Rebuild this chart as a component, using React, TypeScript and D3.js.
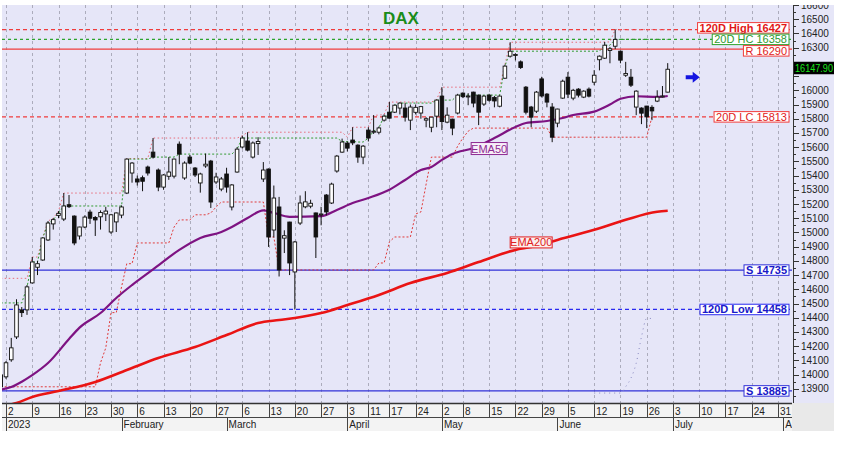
import * as d3 from 'd3';
import React from 'react';

// daily candles: date, open, high, low, close
const candles: [string, number, number, number, number][] = [
    ["2022-12-30", 13998, 14010, 13900, 13914],
    ["2023-01-02", 13984, 14095, 13970, 14083],
    ["2023-01-03", 14104, 14258, 14090, 14188],
    ["2023-01-04", 14265, 14530, 14250, 14490],
    ["2023-01-05", 14455, 14475, 14405, 14436],
    ["2023-01-06", 14455, 14630, 14420, 14617],
    ["2023-01-09", 14645, 14827, 14640, 14792],
    ["2023-01-10", 14755, 14800, 14700, 14780],
    ["2023-01-11", 14806, 14965, 14800, 14961],
    ["2023-01-12", 14947, 15080, 14940, 15066],
    ["2023-01-13", 15060, 15100, 15020, 15090],
    ["2023-01-16", 15120, 15150, 15100, 15134],
    ["2023-01-17", 15094, 15277, 15080, 15186],
    ["2023-01-18", 15195, 15263, 15172, 15181],
    ["2023-01-19", 15115, 15120, 14910, 14926],
    ["2023-01-20", 14975, 15040, 14950, 15038],
    ["2023-01-23", 15038, 15120, 15030, 15108],
    ["2023-01-24", 15143, 15160, 15060, 15100],
    ["2023-01-25", 15105, 15115, 14975, 15088],
    ["2023-01-26", 15110, 15155, 15020, 15140],
    ["2023-01-27", 15130, 15180, 15080, 15150],
    ["2023-01-30", 15003, 15130, 14990, 15124],
    ["2023-01-31", 15074, 15140, 15003, 15137],
    ["2023-02-01", 15122, 15190, 15100, 15179],
    ["2023-02-02", 15277, 15520, 15270, 15516],
    ["2023-02-03", 15418, 15495, 15350, 15488],
    ["2023-02-06", 15376, 15400, 15330, 15355],
    ["2023-02-07", 15385, 15400, 15290, 15360],
    ["2023-02-08", 15460, 15470, 15400, 15418],
    ["2023-02-09", 15565, 15664, 15520, 15530],
    ["2023-02-10", 15439, 15450, 15290, 15319],
    ["2023-02-13", 15319, 15410, 15300, 15404],
    ["2023-02-14", 15395, 15530, 15370, 15425],
    ["2023-02-15", 15396, 15520, 15380, 15516],
    ["2023-02-16", 15621, 15640, 15480, 15551],
    ["2023-02-17", 15383, 15500, 15370, 15488],
    ["2023-02-20", 15530, 15545, 15480, 15488],
    ["2023-02-21", 15453, 15460, 15390, 15404],
    ["2023-02-22", 15348, 15420, 15280, 15411],
    ["2023-02-23", 15468, 15555, 15455, 15480],
    ["2023-02-24", 15502, 15510, 15172, 15214],
    ["2023-02-27", 15355, 15420, 15340, 15390],
    ["2023-02-28", 15305, 15390, 15290, 15376],
    ["2023-03-01", 15411, 15455, 15280, 15319],
    ["2023-03-02", 15179, 15340, 15155, 15334],
    ["2023-03-03", 15425, 15600, 15420, 15586],
    ["2023-03-06", 15601, 15680, 15590, 15664],
    ["2023-03-07", 15643, 15705, 15570, 15579],
    ["2023-03-08", 15530, 15640, 15520, 15629],
    ["2023-03-09", 15625, 15670, 15545, 15640],
    ["2023-03-10", 15376, 15495, 15355, 15439],
    ["2023-03-13", 15446, 15450, 14898, 14968],
    ["2023-03-14", 15017, 15330, 14965, 15242],
    ["2023-03-15", 15179, 15250, 14690, 14736],
    ["2023-03-16", 14960, 15015, 14855, 14977],
    ["2023-03-17", 15073, 15075, 14700, 14785],
    ["2023-03-20", 14722, 14940, 14458, 14933],
    ["2023-03-21", 15066, 15260, 15052, 15207],
    ["2023-03-22", 15180, 15290, 15170, 15215],
    ["2023-03-23", 15185, 15230, 15170, 15205],
    ["2023-03-24", 15137, 15140, 14820, 14968],
    ["2023-03-27", 15125, 15180, 15050, 15130],
    ["2023-03-28", 15263, 15270, 15120, 15144],
    ["2023-03-29", 15207, 15350, 15200, 15340],
    ["2023-03-30", 15432, 15545, 15420, 15537],
    ["2023-03-31", 15565, 15660, 15560, 15636],
    ["2023-04-03", 15629, 15640, 15570, 15593],
    ["2023-04-04", 15650, 15740, 15614, 15630],
    ["2023-04-05", 15614, 15620, 15490, 15530],
    ["2023-04-06", 15530, 15615, 15480, 15607],
    ["2023-04-11", 15720, 15740, 15640, 15664],
    ["2023-04-12", 15705, 15825, 15693, 15712],
    ["2023-04-13", 15705, 15745, 15690, 15735],
    ["2023-04-14", 15790, 15830, 15780, 15818],
    ["2023-04-17", 15846, 15917, 15800, 15804],
    ["2023-04-18", 15846, 15900, 15840, 15895],
    ["2023-04-19", 15875, 15915, 15830, 15910],
    ["2023-04-20", 15875, 15910, 15780, 15811],
    ["2023-04-21", 15790, 15900, 15720, 15882],
    ["2023-04-24", 15845, 15900, 15830, 15880],
    ["2023-04-25", 15840, 15890, 15800, 15885],
    ["2023-04-26", 15790, 15810, 15740, 15800],
    ["2023-04-27", 15740, 15811, 15705, 15811],
    ["2023-04-28", 15818, 15935, 15740, 15931],
    ["2023-05-02", 15959, 16022, 15720, 15780],
    ["2023-05-03", 15776, 15880, 15768, 15825],
    ["2023-05-04", 15797, 15800, 15684, 15734],
    ["2023-05-05", 15840, 15975, 15830, 15966],
    ["2023-05-08", 15980, 15985, 15945, 15955],
    ["2023-05-09", 15955, 15980, 15895, 15960],
    ["2023-05-10", 15987, 15990, 15880, 15910],
    ["2023-05-11", 15966, 15970, 15755, 15846],
    ["2023-05-12", 15903, 15965, 15890, 15959],
    ["2023-05-15", 15966, 15975, 15920, 15930],
    ["2023-05-16", 15950, 15960, 15880, 15925],
    ["2023-05-17", 15888, 15965, 15880, 15959],
    ["2023-05-18", 16085, 16180, 16080, 16170],
    ["2023-05-19", 16240, 16338, 16230, 16275],
    ["2023-05-22", 16245, 16260, 16210, 16252],
    ["2023-05-23", 16200, 16210, 16150, 16160],
    ["2023-05-24", 16022, 16030, 15830, 15846],
    ["2023-05-25", 15882, 15890, 15740, 15811],
    ["2023-05-26", 15853, 15995, 15840, 15987],
    ["2023-05-29", 16080, 16095, 15950, 15960],
    ["2023-05-30", 15973, 15980, 15880, 15917],
    ["2023-05-31", 15882, 15910, 15635, 15670],
    ["2023-06-01", 15769, 15870, 15740, 15868],
    ["2023-06-02", 15945, 16075, 15940, 16064],
    ["2023-06-05", 16092, 16128, 15945, 15973],
    ["2023-06-06", 15945, 16010, 15930, 16000],
    ["2023-06-07", 16008, 16015, 15950, 15966],
    ["2023-06-08", 15952, 16000, 15945, 15994],
    ["2023-06-09", 16008, 16020, 15950, 15959],
    ["2023-06-12", 16057, 16142, 16036, 16106],
    ["2023-06-13", 16215, 16245, 16140, 16240],
    ["2023-06-14", 16226, 16340, 16220, 16317],
    ["2023-06-15", 16280, 16305, 16190, 16292],
    ["2023-06-16", 16310, 16427, 16290, 16358],
    ["2023-06-19", 16275, 16280, 16190, 16212],
    ["2023-06-20", 16106, 16200, 16094, 16118],
    ["2023-06-21", 16092, 16150, 16023, 16036],
    ["2023-06-22", 15882, 16000, 15825, 15994],
    ["2023-06-23", 15875, 15880, 15762, 15839],
    ["2023-06-26", 15889, 15890, 15734, 15813],
    ["2023-06-27", 15880, 15895, 15790, 15855],
    ["2023-06-28", 15924, 16000, 15917, 15952],
    ["2023-06-29", 15955, 16030, 15950, 15960],
    ["2023-06-30", 15987, 16191, 15985, 16148],
];

// moving averages
const ema50: [string, number][] = [
    ["2022-12-30", 13895], ["2023-01-03", 13912], ["2023-01-05", 13950], ["2023-01-09", 13996],
    ["2023-01-12", 14081], ["2023-01-18", 14250], ["2023-01-20", 14330], ["2023-01-26", 14433],
    ["2023-01-31", 14539], ["2023-02-03", 14630], ["2023-02-09", 14740], ["2023-02-16", 14877],
    ["2023-02-22", 14961], ["2023-02-28", 15003], ["2023-03-02", 15038], ["2023-03-07", 15101],
    ["2023-03-10", 15155], ["2023-03-14", 15137], ["2023-03-17", 15110], ["2023-03-27", 15115],
    ["2023-03-30", 15158], ["2023-04-04", 15207], ["2023-04-11", 15242], ["2023-04-17", 15300],
    ["2023-04-20", 15369], ["2023-04-25", 15439], ["2023-04-27", 15460], ["2023-05-02", 15510],
    ["2023-05-04", 15552], ["2023-05-10", 15594], ["2023-05-16", 15664], ["2023-05-22", 15742],
    ["2023-05-24", 15770], ["2023-05-30", 15784], ["2023-06-02", 15805], ["2023-06-06", 15826],
    ["2023-06-12", 15850], ["2023-06-15", 15900], ["2023-06-19", 15940], ["2023-06-22", 15958],
    ["2023-06-28", 15953], ["2023-06-30", 15960],
];
const ema200: [string, number][] = [
    ["2022-12-30", 13775], ["2023-01-04", 13800], ["2023-01-09", 13842], ["2023-01-16", 13884],
    ["2023-01-25", 13948], ["2023-02-02", 14032], ["2023-02-10", 14117], ["2023-02-21", 14194],
    ["2023-03-01", 14278], ["2023-03-09", 14363], ["2023-03-15", 14384], ["2023-03-20", 14398],
    ["2023-03-27", 14433], ["2023-04-03", 14489], ["2023-04-13", 14560], ["2023-04-21", 14644],
    ["2023-05-03", 14715], ["2023-05-11", 14792], ["2023-05-22", 14877], ["2023-05-25", 14898],
    ["2023-06-01", 14947], ["2023-06-12", 15018], ["2023-06-20", 15089], ["2023-06-28", 15145],
    ["2023-06-30", 15152],
];
// faint 120-day low close trace, only visible at the end
const low120: [string, number][] = [
    ["2023-06-12", 13870], ["2023-06-19", 13870], ["2023-06-20", 13915], ["2023-06-21", 13975],
    ["2023-06-22", 14080], ["2023-06-23", 14265], ["2023-06-26", 14395], ["2023-06-27", 14395],
];

// 20 day channel, values before the first visible day
const priorHighClose = 14504;
const priorHigh = 14677;
const channelDays = 19;

const levelNames = ["120D High", "20D HC", "R", "20D LC", "S", "120D Low", "S"];
const levelValues = [16427, 16358, 16290, 15813, 14735, 14458, 13885];
const levelColors = ["#e01818", "#2f9a2f", "#e02020", "#e02020", "#1818c8", "#1818c8", "#1818c8"];
const levelLine = ["#f03c3c", "#2ea42e", "#f03c3c", "#f03c3c", "#3030d8", "#2a2af0", "#3030d8"];
const levelDash = ["4,3", "3,3", "", "4,3", "", "4,3", ""];
const levelBold = [true, false, false, false, true, true, true];

const holidays = ["2023-04-07", "2023-04-10", "2023-05-01"];
const monthLabels = ["2023", "February", "March", "April", "May", "June", "July", "August"];
const lastPrice = "16147.90";

const FONT = "'Liberation Sans', Arial, sans-serif";
const L = 2, R = 792, T = 5, B = 403;

let ctx: CanvasRenderingContext2D | null = null;
const measure = (s: string, bold: boolean) => {
    if (!ctx) ctx = document.createElement('canvas').getContext('2d');
    if (!ctx) return s.length * 6;
    ctx.font = `${bold ? 'bold ' : ''}11px ${FONT}`;
    return ctx.measureText(s).width;
};

const fmt = d3.timeFormat('%Y-%m-%d');
const days = d3.timeDay.range(new Date(2022, 11, 30), new Date(2023, 7, 5))
    .filter(d => d.getDay() !== 0 && d.getDay() !== 6 && !holidays.includes(fmt(d)));
const dayIndex = new Map(days.map((d, i) => [fmt(d), i]));

const x = d3.scaleLinear().domain([1, 148]).range([6, 778]);
const y = d3.scaleLinear().domain([13800, 16600]).range([B, T]);
const xd = (s: string) => x(dayIndex.get(s) as number);
const crisp = (v: number) => Math.round(v) + 0.5;

const App = () => {
    const bars = candles.map(c => ({ i: dayIndex.get(c[0]) as number, o: c[1], h: c[2], l: c[3], c: c[4] }));

    // 20 day highest high, highest close, lowest close
    const channel = bars.map((b, k) => {
        const win = bars.slice(Math.max(0, k - channelDays + 1), k + 1);
        let hh = d3.max(win, w => w.h) as number;
        let hc = d3.max(win, w => w.c) as number;
        const lc = d3.min(win, w => w.c) as number;
        if (k < 6) { hh = Math.max(hh, priorHigh); hc = Math.max(hc, priorHighClose); }
        return { i: b.i, hh, hc, lc };
    });

    const chLine = (f: (d: typeof channel[0]) => number) =>
        d3.line<typeof channel[0]>().x(d => x(d.i)).y(d => y(f(d)))(channel) || '';
    const emaLine = d3.line<[string, number]>().x(d => xd(d[0])).y(d => y(d[1])).curve(d3.curveMonotoneX);

    const weekTicks = days.map((d, i) => ({ d, i }))
        .filter(({ d, i }) => i > 0 && (i === 1 || +d3.timeMonday.floor(d) !== +d3.timeMonday.floor(days[i - 1])))
        .filter(t => x(t.i) < R);
    const monthTicks = days.map((d, i) => ({ d, i }))
        .filter(({ d, i }) => i > 0 && (i === 1 || d.getMonth() !== days[i - 1].getMonth()))
        .filter(t => x(t.i) < R);

    const last = bars[bars.length - 1];
    const tagTop = y(last.c) - 7.5, tagBot = y(last.c) + 5;
    const yTicks = d3.range(13850, 16651, 50);

    // level label boxes, pushed apart where they collide
    const bh = 10.5;
    const boxes = levelValues.map((v, k) => {
        const text = `${levelNames[k]} ${v}`;
        const w = measure(text, levelBold[k]) + 4;
        return { k, v, text, w, top: y(v) - bh / 2 };
    });
    for (let it = 0; it < 12; it++) {
        for (let k = 0; k < boxes.length - 1; k++) {
            const ov = boxes[k].top + bh + 1 - boxes[k + 1].top;
            if (ov > 0) { boxes[k].top -= ov / 2; boxes[k + 1].top += ov / 2; }
        }
    }

    const emaAt = (arr: [string, number][], s: string) => {
        const xi = xd(s);
        const xs = arr.map(a => xd(a[0]));
        const j = d3.bisectLeft(xs, xi);
        if (j <= 0) return arr[0][1];
        if (j >= arr.length) return arr[arr.length - 1][1];
        const t = (xi - xs[j - 1]) / (xs[j] - xs[j - 1]);
        return arr[j - 1][1] + t * (arr[j][1] - arr[j - 1][1]);
    };
    const e50x = xd("2023-05-15"), e50y = y(emaAt(ema50, "2023-05-15")) + 8;
    const e200x = xd("2023-05-25"), e200y = y(emaAt(ema200, "2023-05-25")) - 4.5;

    const cw = 3.6;

    return (
        <svg width={842} height={450} style={{ position: 'absolute', left: 0, top: 0, background: '#fff' }}
            fontFamily={FONT}>
            <defs>
                <clipPath id="plot"><rect x={L} y={T} width={R - L} height={B - T} /></clipPath>
                <clipPath id="xax"><rect x={L} y={B} width={R - L} height={30} /></clipPath>
                <clipPath id="yax"><rect x={R} y={T} width={50} height={B - T - 2} /></clipPath>
            </defs>
            <rect x={L} y={T} width={834 - L} height={B - T} fill="#e6e6f8" />
            <rect x={L} y={B} width={R - L} height={28} fill="#f3f3f3" />
            <rect x={R} y={B} width={834 - R} height={28} fill="#e9e9e9" />

            <g clipPath="url(#plot)">
                {weekTicks.map(t => (
                    <line key={t.i} x1={crisp(x(t.i))} x2={crisp(x(t.i))} y1={T} y2={B} stroke="#acacbc" strokeDasharray="3,3" />
                ))}
                {levelValues.map((v, k) => (
                    <line key={k} x1={L} x2={R} y1={y(v)} y2={y(v)} stroke={levelLine[k]}
                        strokeWidth={1.3} strokeDasharray={levelDash[k] || undefined} />
                ))}
                <path d={emaLine(low120) || ''} fill="none" stroke="#8888c0" strokeWidth={1} strokeDasharray="1,4" />
                <path d={chLine(d => d.hh)} fill="none" stroke="#e86a78" strokeWidth={1} strokeDasharray="1.5,2.5" />
                <path d={chLine(d => d.hc)} fill="none" stroke="#2f9a2f" strokeWidth={1} strokeDasharray="2,2" />
                <path d={chLine(d => d.lc)} fill="none" stroke="#e03a3a" strokeWidth={1} strokeDasharray="2,2" />
                <path d={emaLine(ema200) || ''} fill="none" stroke="#ea1414" strokeWidth={2.6} />
                <path d={emaLine(ema50) || ''} fill="none" stroke="#7e1382" strokeWidth={2.2} />
                {bars.map(b => {
                    const up = b.c >= b.o;
                    const top = y(Math.max(b.o, b.c)), bot = y(Math.min(b.o, b.c));
                    return (
                        <g key={b.i}>
                            <line x1={x(b.i)} x2={x(b.i)} y1={y(b.h)} y2={y(b.l)} stroke="#111" strokeWidth={1} />
                            <rect x={x(b.i) - cw / 2} y={top} width={cw} height={Math.max(1, bot - top)}
                                fill={up ? '#fff' : '#111'} stroke="#111" strokeWidth={0.9} />
                        </g>
                    );
                })}
            </g>

            {/* indicator tags */}
            <g fontSize={11}>
                <rect x={e50x - 18} y={e50y - 6} width={36} height={12} fill="#f6eef8" stroke="#8e2a92" />
                <text x={e50x} y={e50y + 4} textAnchor="middle" fill="#8e2a92">EMA50</text>
                <rect x={e200x - 21} y={e200y - 5.5} width={42} height={11} fill="#fbeeee" stroke="#e02020" />
                <text x={e200x} y={e200y + 4} textAnchor="middle" fill="#e02020">EMA200</text>
            </g>

            {boxes.map(b => (
                <g key={b.k}>
                    <rect x={789 - b.w} y={b.top} width={b.w} height={bh} fill="#fff" stroke={levelLine[b.k]} strokeWidth={1} />
                    <text x={789 - 2} y={b.top + bh - 1.5} textAnchor="end" fontSize={11}
                        fontWeight={levelBold[b.k] ? 'bold' : 'normal'} fill={levelColors[b.k]}>{b.text}</text>
                </g>
            ))}

            <text x={401} y={24} textAnchor="middle" fontSize={17} fontWeight="bold" fill="#1a8c1a">DAX</text>

            {/* arrow after last bar */}
            <path d={`M${x(last.i) + 18},${y(last.c) + 6} h7 v-3.5 l7,5.5 l-7,5.5 v-3.5 h-7 z`} fill="#1414e0" />

            {/* right axis */}
            <line x1={R + 1.5} x2={R + 1.5} y1={T} y2={B} stroke="#333" />
            <g clipPath="url(#yax)">
                {yTicks.map(v => (
                    <g key={v}>
                        <line x1={R + 1} x2={R + (v % 100 === 0 ? 7 : 4)} y1={crisp(y(v))} y2={crisp(y(v))} stroke="#333" />
                        {v % 100 === 0 && (y(v) + 4 < tagTop || y(v) - 4 > tagBot) && (
                            <text x={R + 9} y={y(v) + 3.5} fontSize={10} fill="#222">{v}</text>
                        )}
                    </g>
                ))}
            </g>
            <rect x={R + 2} y={tagTop} width={40} height={tagBot - tagTop} fill="#000" />
            <text x={R + 3} y={tagBot - 2.5} fontSize={10} fill="#19e619"
                textLength={38} lengthAdjust="spacingAndGlyphs">{lastPrice}</text>

            {/* date axis */}
            <line x1={L} x2={R} y1={B + 0.5} y2={B + 0.5} stroke="#333" strokeWidth={1.5} />
            <line x1={L} x2={R} y1={B + 14.5} y2={B + 14.5} stroke="#444" />
            <g clipPath="url(#xax)" fontSize={10} fill="#222">
                {weekTicks.map(t => (
                    <g key={t.i}>
                        <line x1={crisp(x(t.i))} x2={crisp(x(t.i))} y1={B} y2={B + 14} stroke="#444" />
                        <text x={x(t.i) + 2} y={B + 12}>{t.d.getDate()}</text>
                    </g>
                ))}
                {monthTicks.map(t => (
                    <g key={t.i}>
                        <line x1={crisp(x(t.i))} x2={crisp(x(t.i))} y1={B + 15} y2={B + 28} stroke="#444" />
                        <text x={x(t.i) + 2} y={B + 25}>{monthLabels[t.d.getMonth()]}</text>
                    </g>
                ))}
            </g>
        </svg>
    );
};

export default App;
